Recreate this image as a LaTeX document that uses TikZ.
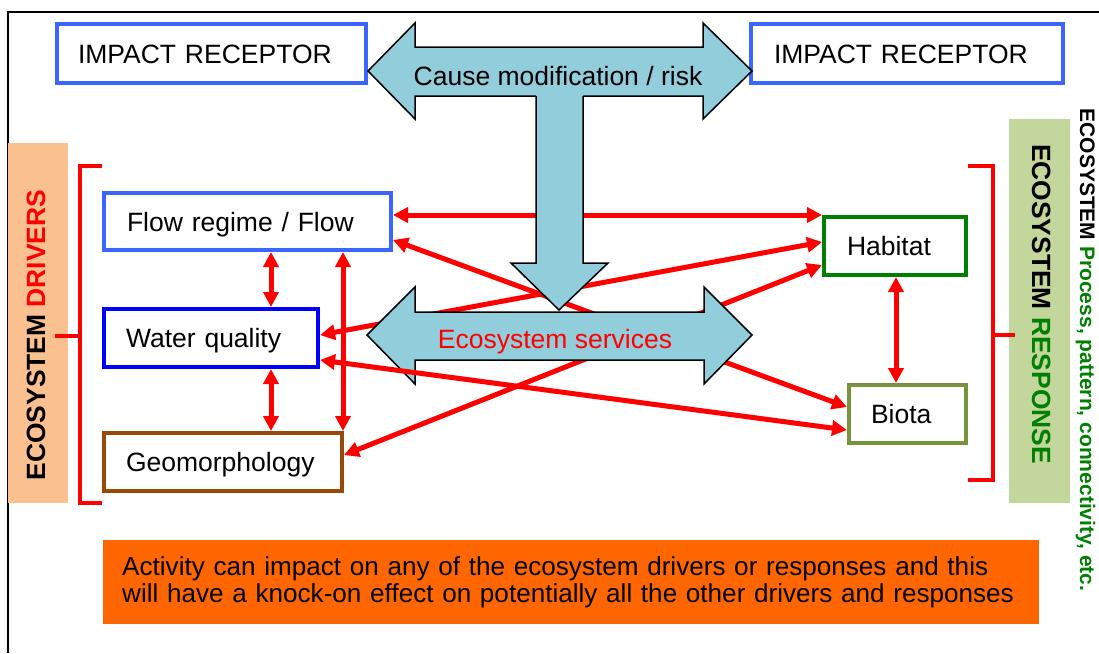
\documentclass[tikz,border=0pt]{standalone}
\usepackage{fontspec}
\setmainfont{Liberation Sans}
\usetikzlibrary{arrows.meta,calc}
\definecolor{boxblue}{HTML}{3A66FF}
\definecolor{wqblue}{HTML}{0000FF}
\definecolor{geobrown}{HTML}{984807}
\definecolor{habgreen}{HTML}{008000}
\definecolor{biogreen}{HTML}{77933C}
\definecolor{drvorange}{HTML}{FAC090}
\definecolor{respgreen}{HTML}{C3D69B}
\definecolor{arrowblue}{HTML}{92CDDC}
\definecolor{noteorange}{HTML}{FF6600}
\definecolor{txtgreen}{HTML}{008000}
\tikzset{
  box/.style={draw, line width=4pt, fill=white, anchor=west, align=left,
    inner ysep=0pt, text height=19pt, text depth=0pt,
    font=\fontsize{26.5}{30}\selectfont},
  redarr/.style={draw=red, line width=5pt,
    arrows={Triangle[length=15pt,width=15pt]-Triangle[length=15pt,width=15pt]}},
  redline/.style={draw=red, line width=4pt},
  bigarrow/.style={fill=arrowblue, draw=black, line width=1.5pt, line join=miter},
  bigfont/.style={font=\fontsize{26.5}{30}\selectfont},
  sidefont/.style={font=\fontsize{26.4}{30}\selectfont\bfseries},
}
\begin{document}
\begin{tikzpicture}[x=1pt,y=-1pt]
\useasboundingbox (0,0) rectangle (1099,653);
% frame
\draw[line width=2pt] (1099,12) -- (8,12) -- (8,653);
% side panels
\fill[drvorange] (8,143) rectangle (68,503);
\fill[respgreen] (1009,119) rectangle (1070,503);
\node[sidefont, rotate=90, anchor=base, inner sep=0pt] (drvtxt) at (45,335) {ECOSYSTEM \textcolor{red}{DRIVERS}};
\node[sidefont, rotate=-90, anchor=base, inner sep=0pt] (resptxt) at (1032,304) {ECOSYSTEM \textcolor{txtgreen}{RESPONSE}};
\node[font=\fontsize{21}{24}\selectfont\bfseries, rotate=-90, anchor=base, inner sep=0pt] (proctxt) at (1080,350) {ECOSYSTEM \textcolor{txtgreen}{Process, pattern, connectivity, etc.}};
% brackets
\draw[redline] (102,166) -- (80,166) -- (80,503) -- (102,503);
\draw[redline] (55,336) -- (80,336);
\draw[redline] (968,166) -- (993,166) -- (993,480) -- (968,480);
\draw[redline] (993,335) -- (1015,335);
% boxes
\node[box, draw=boxblue, inner xsep=21pt, text width=267pt, minimum height=59pt] (irl) at (55,53.5) {IMPACT RECEPTOR};
\node[box, draw=boxblue, inner xsep=23pt, text width=266pt, minimum height=59pt] (irr) at (749,53.5) {IMPACT RECEPTOR};
\node[box, draw=boxblue, inner xsep=23pt, text width=241pt, minimum height=57pt] (flow) at (102,221.5) {Flow regime / Flow};
\node[box, draw=wqblue, inner xsep=22pt, text width=170pt, minimum height=58pt] (wq) at (102,338) {Water quality};
\node[box, draw=geobrown, inner xsep=22pt, text width=194pt, minimum height=58pt] (geo) at (102,462) {Geomorphology};
\node[box, draw=habgreen, inner xsep=23pt, text width=96pt, minimum height=58pt] (hab) at (822,246) {Habitat};
\node[box, draw=biogreen, inner xsep=22pt, text width=73pt, minimum height=58pt] (bio) at (847,414) {Biota};
% connectors drawn behind the big arrows
\draw[redarr] ($(flow.east)+(0,-6.5)$) -- ($(hab.west)+(0,-31)$);
\draw[redarr] ($(flow.east)+(0,18.5)$) -- ($(bio.west)+(0,-7)$);
\draw[redarr] ($(wq.east)+(0,-3)$) -- ($(hab.west)+(0,-4)$);
\draw[redarr] ($(geo.east)+(0,-7)$) -- ($(hab.west)+(0,19)$);
% top double arrow and down arrow
\path[bigarrow] (368,71) -- (415,23) -- (415,47) -- (703,47) -- (703,23) -- (752,71)
  -- (703,119) -- (703,96) -- (415,96) -- (415,119) -- cycle;
\fill[arrowblue] (536,94) -- (536,263) -- (511,263) -- (559,310) -- (608,263) -- (583,263) -- (583,94) -- cycle;
\draw[line width=1.5pt, line join=miter] (536,96) -- (536,263) -- (511,263) -- (559,310) -- (608,263) -- (583,263) -- (583,96);
\node[bigfont, inner sep=0pt, text height=19pt, text depth=0pt] (cause) at (558,76) {Cause modification / risk};
% ecosystem services arrow
\path[bigarrow] (367,335) -- (415,287) -- (415,312) -- (704,312) -- (704,287) -- (752,335)
  -- (704,384) -- (704,360) -- (415,360) -- (415,384) -- cycle;
\node[bigfont, text=red, inner sep=0pt, text height=19pt, text depth=0pt] (eco) at (555,339) {Ecosystem services};
% connector drawn over the arrow
\draw[redarr] ($(wq.east)+(0,22)$) -- ($(bio.west)+(0,16)$);
% vertical connectors
\draw[redarr] ($(flow.south)+(23.5,0)$) -- ($(wq.north)+(60,0)$);
\draw[redarr] ($(wq.south)+(60,0)$) -- ($(geo.north)+(48,0)$);
\draw[redarr] ($(flow.south)+(95.5,0)$) -- ($(geo.north)+(120,0)$);
\draw[redarr] ($(hab.south)+(1,0)$) -- ($(bio.north)+(-11.5,0)$);
% note box
\node[fill=noteorange, anchor=west, inner xsep=19pt, inner ysep=0pt, text width=898pt,
  minimum height=84pt, align=left, font=\fontsize{26.1}{27}\selectfont] (note) at (103,582)
  {\mbox{Activity can impact on any of the ecosystem drivers or responses and this}\\
   \mbox{will have a knock-on effect on potentially all the other drivers and responses}};
\end{tikzpicture}
\end{document}
